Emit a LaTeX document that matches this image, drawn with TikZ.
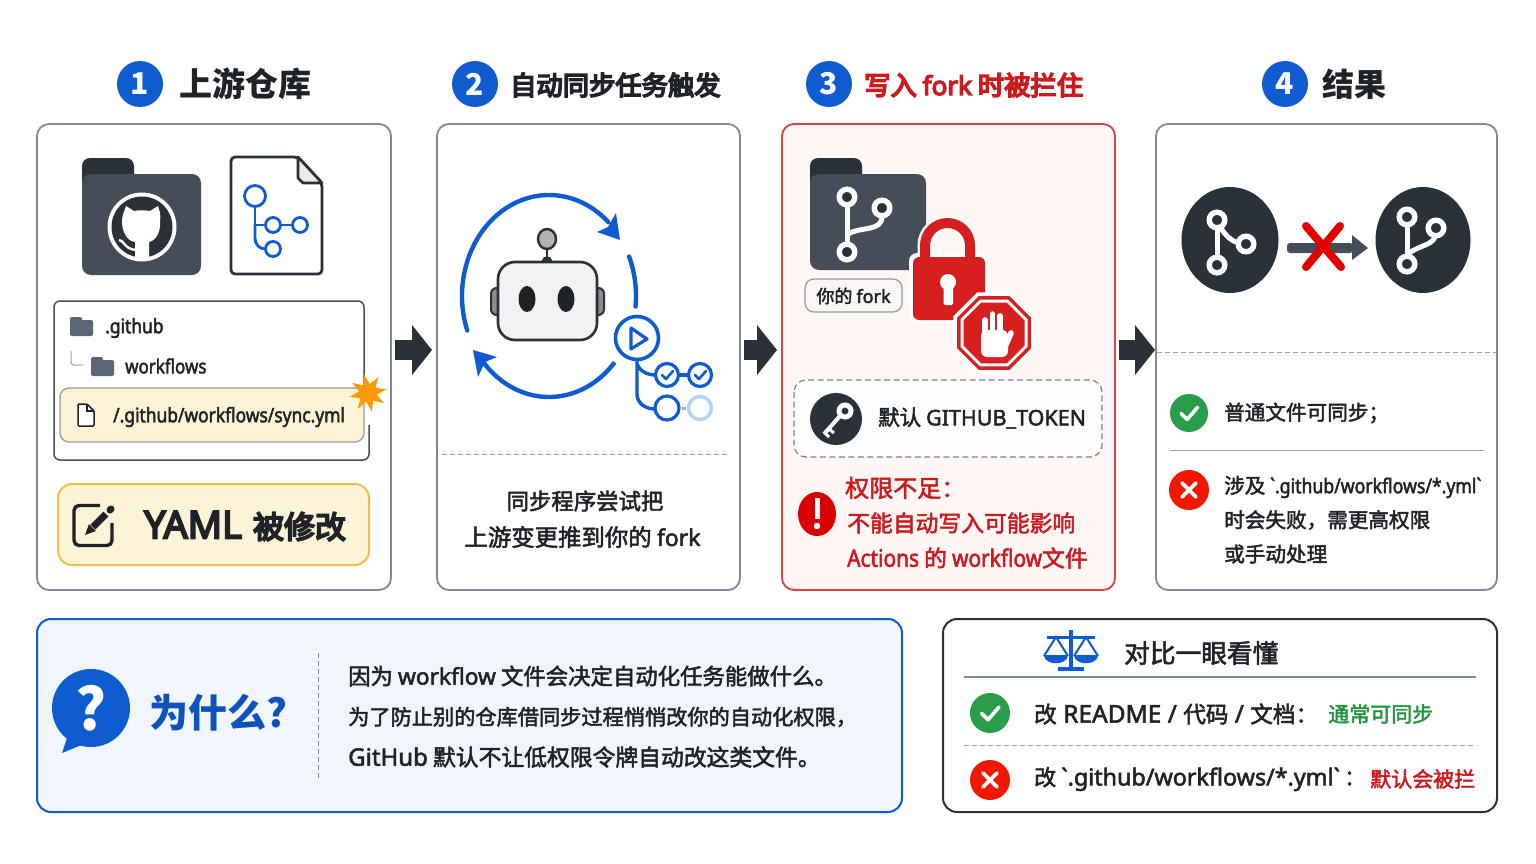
\documentclass[tikz,border=0pt]{standalone}
\usepackage{fontspec}
\setmainfont{Noto Sans CJK SC}[FakeBold=2.2]
\newfontfamily\zhm{Noto Sans CJK SC}[FakeBold=6]
\newfontfamily\zhb{Noto Sans CJK SC}
\newfontfamily\lat{Noto Sans}[FakeStretch=0.87,FakeBold=2.2]
\newfontfamily\latw{Noto Sans}[FakeBold=2.2]
\newfontfamily\latm{Noto Sans}[FakeBold=5]
\newcommand{\La}[1]{{\lat #1}}
\newcommand{\Lw}[2]{{\fontsize{#1}{#1}\selectfont\latw #2}}
\newcommand{\Lm}[2]{{\fontsize{#1}{#1}\selectfont\latm #2}}
\usetikzlibrary{arrows.meta,shapes.geometric}
\newcommand{\fs}[1]{\fontsize{#1}{#1}\selectfont}
\definecolor{ink}{HTML}{1F2328}
\definecolor{dark}{HTML}{2B3139}
\definecolor{slate}{HTML}{454D58}
\definecolor{edge}{HTML}{7F8A96}
\definecolor{blue1}{HTML}{0F5BD0}
\definecolor{paleblue}{HTML}{B6D2F3}
\definecolor{red1}{HTML}{D5201F}
\definecolor{redtxt}{HTML}{CC1A1E}
\definecolor{green1}{HTML}{2A9D4A}
\definecolor{greentxt}{HTML}{23963F}
\definecolor{cream}{HTML}{FDF3D6}
\definecolor{gold}{HTML}{EFBF4A}
\definecolor{folderg}{HTML}{5A6675}
\definecolor{whybg}{HTML}{F1F6FD}
\tikzset{
  panel/.style={draw=edge,line width=1.8pt,fill=white,rounded corners=12pt,inner sep=0pt,outer sep=0pt},
  redpanel/.style={panel,draw=red1!85,fill=red!3.5},
  badge/.style={circle,fill=blue1,text=white,font=\fs{30}\zhb\bfseries,minimum size=46pt,inner sep=0pt},
  ttl/.style={anchor=west,inner sep=0pt,text=ink,font=\fs{26.3}\zhm},
  txt/.style={anchor=west,inner sep=0pt,text=ink,font=\fs{20.6}},
  ctr/.style={anchor=center,inner sep=0pt,text=ink,font=\fs{22.4}},
  flow/.style={draw=dark,line width=20pt,-{Triangle[length=20pt,width=49pt,sep=0pt]},shorten >=5pt,shorten <=4pt},
  bl/.style={draw=blue1,line width=2.8pt,line cap=round},
  dashline/.style={draw=edge!80,line width=1pt,dash pattern=on 5pt off 3pt},
}
\newcommand{\bigfolder}[4]{%
  \fill[dark,rounded corners=8pt] (#1,#2) rectangle (#1+52,#2+40);
  \fill[slate,rounded corners=9pt] (#1,#2+16) rectangle (#3,#4);}
\newcommand{\smallfolder}[2]{%
  \fill[folderg,rounded corners=2pt] (#1,#2) rectangle (#1+12,#2+8);
  \fill[folderg,rounded corners=2pt] (#1,#2+3) rectangle (#1+23,#2+19);}
\newcommand{\okmark}[3]{\fill[green1] (#1,#2) circle (#3);
  \draw[white,line width=3.6pt,line cap=round,line join=round] (#1-#3*.42,#2+#3*.02) -- (#1-#3*.1,#2+#3*.34) -- (#1+#3*.45,#2-#3*.3);}
\newcommand{\nomark}[3]{\fill[red!80!orange!95!black] (#1,#2) circle (#3);
  \draw[white,line width=3.6pt,line cap=round] (#1-#3*.36,#2-#3*.36) -- (#1+#3*.36,#2+#3*.36) (#1+#3*.36,#2-#3*.36) -- (#1-#3*.36,#2+#3*.36);}
\newcommand{\ringw}[2]{\draw[white,line width=5.4pt,fill=dark] (#1,#2) circle (7.8);}
\begin{document}
\begin{tikzpicture}[x=1pt,y=-1pt]
\useasboundingbox (0,0) rectangle (1536,864);
\fill[white] (0,0) rectangle (1536,864);

% panels
\node[panel,minimum width=354pt,minimum height=466pt] (p1) at (214,357) {};
\node[panel,minimum width=303pt,minimum height=466pt] (p2) at (588.5,357) {};
\node[redpanel,minimum width=333pt,minimum height=466pt] (p3) at (948.5,357) {};
\node[panel,minimum width=341pt,minimum height=466pt] (p4) at (1326.5,357) {};

% flow arrows
\draw[flow] ([yshift=7pt]p1.east) -- ([yshift=7pt]p2.west);
\draw[flow] ([yshift=7pt]p2.east) -- ([yshift=7pt]p3.west);
\draw[flow,shorten >=1pt] ([yshift=7pt]p3.east) -- ([yshift=7pt]p4.west);

% headers
\node[badge] (b1) at (140,84) {1};
\node[ttl,font=\fs{33}\zhb\bfseries] (t1) at (179,84) {上游仓库};
\node[badge] (b2) at (475,84) {2};
\node[ttl] (t2) at (510,85) {自动同步任务触发};
\node[badge] (b3) at (829,84) {3};
\node[ttl,text=redtxt] (t3) at (864,85) {写入 \Lm{26}{fork} 时被拦住};
\node[badge] (b4) at (1285,84) {4};
\node[ttl,font=\fs{32}\zhb\bfseries] (t4) at (1322,84) {结果};

% ---------- panel 1
\bigfolder{82}{158}{201}{275}
\fill[white] (142,227) circle (34.5);
\fill[dark] (142,227) circle (30.5);
\fill[white] (126,206) -- (134,211) .. controls (139,210) and (145,210) .. (150,211) -- (158,206)
  .. controls (160,212) and (161,216) .. (160,221) .. controls (161,233) and (155,241) .. (149,242)
  -- (149,258) -- (135,258) -- (135,242) .. controls (127,241) and (122,232) .. (122,221)
  .. controls (122,216) and (124,212) .. (126,206) -- cycle;
\draw[white,line width=2.4pt] (119,240) .. controls (124,240) and (124,249) .. (136,250);
% document
\draw[dark,line width=2.8pt,line join=round,rounded corners=4pt,fill=white] (298,157) -- (231,157) -- (231,274) -- (322,274) -- (322,183) -- cycle;
\draw[dark,line width=2.6pt,line join=round,fill=black!8] (298,157) -- (322,183) -- (303,183) -- (298,178) -- cycle;
\draw[bl] (255,207) -- (255,225) .. controls (255,225) and (258,225) .. (265,225);
\draw[bl] (255,225) -- (255,238) .. controls (255,245) and (260,249) .. (265,249);
\draw[bl] (281,225) -- (292,225);
\draw[bl,fill=white] (255,196) circle (10.5);
\draw[bl,fill=white] (273,225) circle (7.5);
\draw[bl,fill=white] (300,225) circle (7.5);
\draw[bl,fill=white] (273,249) circle (7.5);
% tree box
\draw[draw=slate,line width=1.5pt,rounded corners=6pt] (364,400) -- (364,301) -- (54,301) -- (54,460) -- (369,460) -- (369,425);
\smallfolder{70}{317}
\node[txt,font=\fs{20}\lat] (n1) at (105,328) {.github};
\draw[edge!80,line width=1pt,rounded corners=3pt] (71,351) -- (71,365) -- (83,365);
\smallfolder{91}{357}
\node[txt,font=\fs{19.5}\lat] (n2) at (125,366) {workflows};
\draw[fill=cream,draw=black!40,line width=1.3pt,rounded corners=9pt] (60,388) rectangle (364,442);
\draw[ink,line width=1.5pt,line join=round,rounded corners=1pt,fill=white] (87,404) -- (78,404) -- (78,426) -- (94,426) -- (94,411) -- cycle;
\draw[ink,line width=1.2pt] (87,404) -- (87,411) -- (94,411);
\node[txt,font=\fs{20}\lat] (n3) at (113,417) {/.github/workflows/sync.yml};
\node[star,star points=8,star point ratio=2.1,fill=orange!80!yellow,minimum size=38pt,inner sep=0pt,rotate=12] (burst) at (368,393) {};
% YAML box
\draw[fill=cream,draw=gold,line width=2pt,rounded corners=14pt] (58,484) rectangle (369,565);
\draw[ink,line width=3.4pt,rounded corners=5pt] (100,505.5) -- (74,505.5) -- (74,545.5) -- (112,545.5) -- (112,523);
\draw[ink,line width=7pt] (93,527) -- (106,514);
\fill[ink] (85,535) -- (89,524) -- (96,531) -- cycle;
\draw[ink,line width=7pt,line cap=round] (110,510) -- (111,509);
\node[txt,font=\fs{31}\zhm] (n4) at (144,526) {\Lm{38}{YAML}\hspace{4pt} 被修改};

% ---------- panel 2
\draw[blue1,line width=4.4pt,line cap=round] plot[domain=160:313,samples=50,smooth] ({549+87*cos(\x)},{296+101*sin(\x)});
\fill[blue1] (620,240) -- (597,232) -- (608,227) -- (616,213) -- cycle;
\draw[blue1,line width=4.4pt,line cap=round] plot[domain=-23:6,samples=15,smooth] ({549+87*cos(\x)},{296+101*sin(\x)});
\draw[blue1,line width=4.4pt] plot[domain=41:139,samples=40,smooth] ({549+87*cos(\x)},{296+101*sin(\x)});
\fill[blue1] (473,350) -- (497,357) -- (485,362) -- (478,377) -- cycle;
% robot
\draw[dark,line width=2pt,fill=black!45,rounded corners=3pt] (498,287) -- (491,290) -- (491,313) -- (498,316) -- cycle;
\draw[dark,line width=2pt,fill=black!45,rounded corners=3pt] (597,287) -- (604,290) -- (604,313) -- (597,316) -- cycle;
\draw[dark,line width=2.6pt] (547,248) -- (547,260);
\fill[dark] (541,262) -- (544,257) -- (550,257) -- (553,262) -- cycle;
\draw[dark,line width=2.4pt,fill=black!30] (547,239) ellipse [x radius=9,y radius=10];
\draw[dark,line width=2.6pt,fill=black!5,rounded corners=17pt] (498,262) rectangle (597,340);
\fill[ink] (527,299) ellipse [x radius=8.5,y radius=13];
\fill[ink] (566,299) ellipse [x radius=8.5,y radius=13];
% actions
\draw[blue1,line width=3.4pt] (637,360) -- (637,394) .. controls (637,403) and (645,409) .. (655,409);
\draw[blue1,line width=3.4pt] (637,364) .. controls (639,370) and (646,375) .. (656,375);
\draw[blue1,line width=3.4pt] (678,375) -- (689,375);
\draw[blue1!45,line width=3pt] (682,408) -- (686,408);
\draw[blue1,line width=3.6pt,fill=white] (637,338) circle (21.5);
\draw[blue1,line width=3.2pt,line join=round] (631,328) -- (647,339) -- (631,349) -- cycle;
\foreach \cx in {667,700} {
  \draw[blue1,line width=3.2pt,fill=white] (\cx,375) circle (11.5);
  \draw[blue1,line width=2.6pt,line cap=round,line join=round] (\cx-5,375) -- (\cx-1,379) -- (\cx+6,371);
}
\draw[blue1,line width=3.2pt,fill=white] (667,408) circle (12);
\draw[paleblue,line width=3.4pt,fill=white] (700,408) circle (11.5);
\draw[dashline] (442,454) -- (730,454);
\node[ctr] (n5) at (585,501) {同步程序尝试把};
\node[ctr,font=\fs{23.4}] (n6) at (582.5,537) {上游变更推到你的 \Lw{23}{fork}};

% ---------- panel 3
\bigfolder{810}{158}{926}{270}
\draw[white,line width=5pt] (847,205) -- (847,244);
\draw[white,line width=5pt] (848,234) .. controls (862,226) and (882,232) .. (882,216);
\ringw{847}{197}\ringw{882}{208}\ringw{847}{252}
\draw[fill=black!3,draw=black!40,line width=1.2pt,rounded corners=9pt] (805,279) rectangle (902,312);
\node[ctr,font=\fs{18}] (n7) at (853.5,296) {你的 \Lw{18}{fork}};
% lock
\draw[white,line width=15pt] (925,260) -- (925,245.5) arc[start angle=180,end angle=360,radius=22.5] -- (970,260);
\fill[white,rounded corners=8pt] (909,253) rectangle (989,324);
\draw[red1,line width=10pt] (925,260) -- (925,245.5) arc[start angle=180,end angle=360,radius=22.5] -- (970,260);
\fill[red1,rounded corners=6pt] (913,257) rectangle (985,320);
\fill[white] (948,282) circle (8);
\fill[white,rounded corners=1.5pt] (943.5,284) rectangle (953,305);
% stop
\node[regular polygon,regular polygon sides=8,fill=white,minimum size=88pt,inner sep=0pt] (st0) at (994,333) {};
\node[regular polygon,regular polygon sides=8,fill=red1,minimum size=80pt,inner sep=0pt] (st1) at (994,333) {};
\node[regular polygon,regular polygon sides=8,fill=white,minimum size=72.5pt,inner sep=0pt] (st2) at (994,333) {};
\node[regular polygon,regular polygon sides=8,fill=red1,minimum size=66pt,inner sep=0pt] (st3) at (994,333) {};
\fill[white,rounded corners=6pt] (981,330) rectangle (1008,357);
\draw[white,line width=5.6pt,line cap=round] (985,340) -- (985,320) (992.5,340) -- (992.5,314) (1000,340) -- (1000,316);
\draw[white,line width=5.6pt,line cap=round] (1005,347) -- (1011,333);
% token
\draw[fill=white!85!black!5,draw=black!50,line width=1.2pt,dash pattern=on 6pt off 3.5pt,rounded corners=12pt] (794,380) rectangle (1102,457);
\fill[dark] (836,419) circle (26);
\draw[white,line width=5pt] (845,411) circle (6);
\draw[white,line width=4pt] (840,416) -- (824,434);
\draw[white,line width=3pt] (829,429) -- (834,433) (825,433) -- (829,437);
\node[txt,font=\fs{21.5}] (n8) at (878,418) {默认 \Lw{21.5}{GITHUB\_TOKEN}};
% warn
\fill[red!85!black] (817,514) ellipse [x radius=19,y radius=22];
\fill[white] (814.5,498) rectangle (819.5,519);
\fill[white] (817,526) circle (3.3);
\node[txt,text=redtxt,font=\fs{24}] (n9) at (845,488) {权限不足：};
\node[txt,text=redtxt,font=\fs{22.8}] (n10) at (847,523) {不能自动写入可能影响};
\node[txt,text=redtxt,font=\fs{22.8}] (n11) at (847,558) {{\fs{24}\lat Actions} 的 {\fs{24}\lat workflow}文件};

% ---------- panel 4
\fill[dark] (1230,240) ellipse [x radius=48.5,y radius=53];
\fill[dark] (1423,240) ellipse [x radius=47.5,y radius=53];
\draw[white,line width=5pt] (1217,225) -- (1217,260);
\draw[white,line width=5pt] (1220,227) .. controls (1226,236) and (1232,242) .. (1240,243);
\ringw{1217}{220}\ringw{1246}{244}\ringw{1217}{265}
\draw[white,line width=5pt] (1407,222) -- (1407,260);
\draw[white,line width=5pt] (1408,254) .. controls (1420,244) and (1436,246) .. (1436,232);
\ringw{1407}{217}\ringw{1436}{228}\ringw{1407}{264}
\fill[slate,rounded corners=3pt] (1287,243) rectangle (1353,253);
\fill[slate] (1352,235) -- (1368,248) -- (1352,260) -- cycle;
\draw[red!90!black,line width=8pt,line cap=round] (1306,226) -- (1341,267) (1340,226) -- (1306,267);
\draw[dashline] (1157,352) -- (1496,352);
\okmark{1189}{413}{19}
\node[txt] (n12) at (1224,413) {普通文件可同步；};
\draw[edge!80,line width=1pt] (1170,450) -- (1484,450);
\nomark{1189}{490}{20}
\node[txt] (n13) at (1224,487) {涉及 {\fs{20.3}\lat `.github/workflows/*.yml`}};
\node[txt] (n14) at (1224,520) {时会失败，需更高权限};
\node[txt] (n15) at (1224,554) {或手动处理};

% ---------- why box
\draw[fill=whybg,draw=blue1,line width=2pt,rounded corners=14pt] (37,619) rectangle (902,812);
\fill[blue1] (91,708) circle (39);
\fill[blue1] (68,735) -- (62,753) -- (84,744) -- cycle;
\node[inner sep=0pt,text=white,font=\fs{58}\zhb\bfseries] (q) at (91,708) {?};
\node[txt,text=blue1!90!black,font=\fs{39}\zhb\bfseries] (n16) at (149,713) {为什么?};
\draw[dashline,edge] (318,653) -- (318,778);
\node[txt,font=\fs{22.4}] (n17) at (348,676) {因为 \Lw{22.7}{workflow} 文件会决定自动化任务能做什么。};
\node[txt,font=\fs{21.2}] (n18) at (348,717) {为了防止别的仓库借同步过程悄悄改你的自动化权限，};
\node[txt,font=\fs{22.8}] (n19) at (348,757) {\Lw{24}{GitHub} 默认不让低权限令牌自动改这类文件。};

% ---------- compare box
\draw[fill=white,draw=dark,line width=2pt,rounded corners=14pt] (943,619) rectangle (1497,812);
\draw[blue1,line width=3.2pt] (1071,630) -- (1071,669);
\draw[blue1,line width=4pt] (1058,669) -- (1084,669);
\draw[blue1,line width=3pt] (1047,637) -- (1095,637);
\draw[blue1,line width=2pt] (1044,656) -- (1056,637) -- (1068,656) (1074,656) -- (1086,637) -- (1098,656);
\fill[blue1] (1044,655) .. controls (1044,666) and (1068,666) .. (1068,655) -- cycle;
\fill[blue1] (1074,655) .. controls (1074,666) and (1098,666) .. (1098,655) -- cycle;
\node[txt,font=\fs{25.7}] (n20) at (1124,653) {对比一眼看懂};
\draw[edge,line width=1.3pt] (964,677) -- (1476,677);
\okmark{990}{713}{20}
\node[txt,font=\fs{22.6}] (n21) at (1034,714) {改\Lw{24.5}{ README / }代码\Lw{24.5}{ / }文档：};
\node[txt,text=greentxt,font=\fs{21}] (n22) at (1328,714) {通常可同步};
\draw[dashline] (964,745) -- (1476,745);
\nomark{990}{780}{20}
\node[txt,font=\fs{22}] (n23) at (1034,779) {改 \Lw{23.3}{`.github/workflows/*.yml`}\hspace{4pt}：};
\node[txt,text=redtxt,font=\fs{21}] (n24) at (1370,779) {默认会被拦};
\end{tikzpicture}
\end{document}
